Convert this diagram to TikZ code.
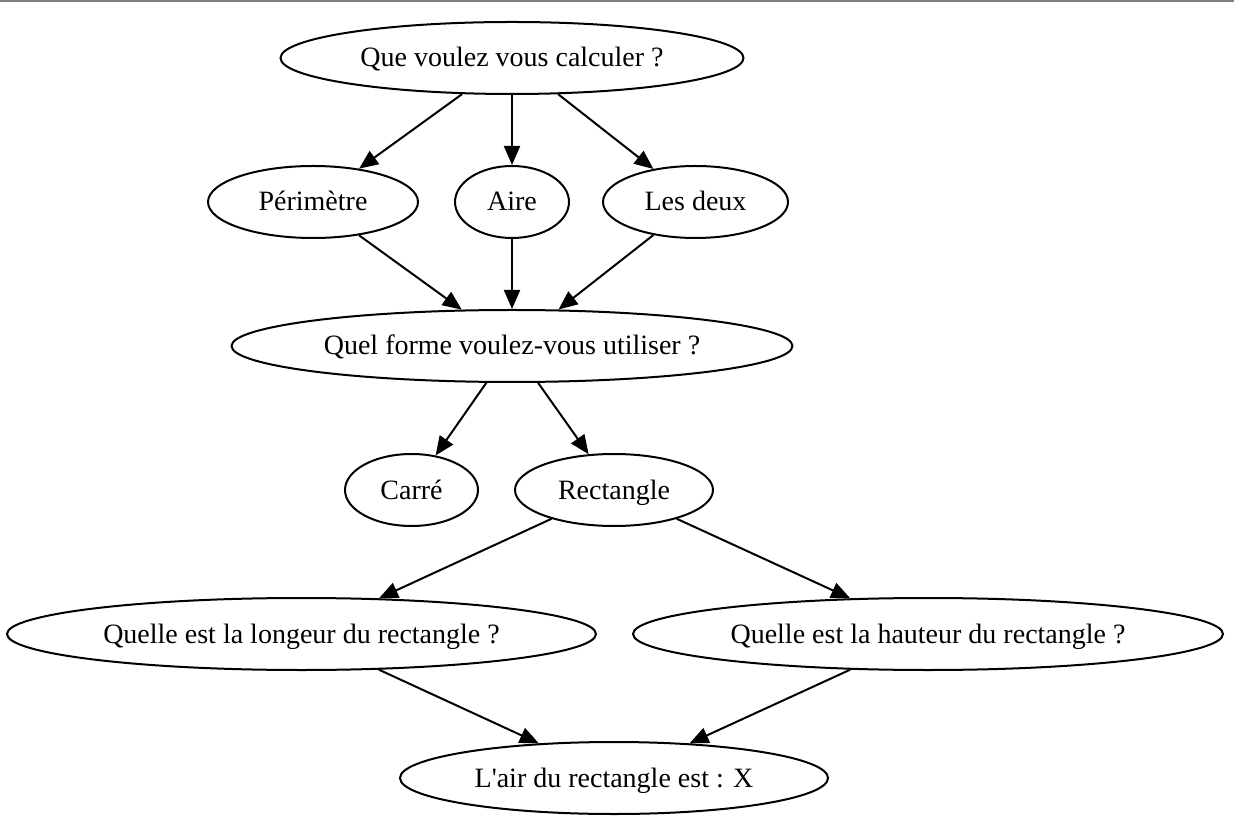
\documentclass[tikz,border=0pt]{standalone}
\usepackage{fontspec}
\setmainfont{Liberation Serif}
\usetikzlibrary{shapes.geometric,arrows.meta}
\begin{document}
\begin{tikzpicture}[x=0.5pt,y=-0.5pt,
    etat/.style={draw, ellipse, line width=1pt, minimum height=36pt, inner sep=0pt,
      text height=12pt, text depth=3pt, font=\fontsize{14pt}{17pt}\selectfont},
    fleche/.style={-{Triangle[length=9.5pt,width=8pt]}, line width=1pt}]
      \useasboundingbox (0,0) rectangle (1234,822);
      % top rule
      \draw[color=gray, line width=1pt] (0,1) -- (1234,1);
      % questions
      \node[etat, minimum width=231.5pt] (calc) at (512,58) {Que voulez vous calculer ?};
      \node[etat, minimum width=105pt] (peri) at (313,202) {Périmètre};
      \node[etat, minimum width=57pt] (aire) at (512,202) {Aire};
      \node[etat, minimum width=92.5pt] (deux) at (695.5,202) {Les deux};
      \node[etat, minimum width=280.5pt] (forme) at (512,346) {Quel forme voulez-vous utiliser ?};
      \node[etat, minimum width=66.5pt] (carre) at (411.5,490) {Carré};
      \node[etat, minimum width=99pt] (rect) at (614,490) {Rectangle};
      \node[etat, minimum width=294.5pt] (longueur) at (301.5,634) {Quelle est la longeur du rectangle ?};
      \node[etat, minimum width=295pt] (hauteur) at (928,634) {Quelle est la hauteur du rectangle ?};
      \node[etat, minimum width=214pt] (resultat) at (614,778) {L\textquotesingle air du rectangle est : X};
      % arrows
      \draw[fleche] (calc) -- (peri);
      \draw[fleche] (calc) -- (aire);
      \draw[fleche] (calc) -- (deux);
      \draw[fleche] (peri) -- (forme);
      \draw[fleche] (aire) -- (forme);
      \draw[fleche] (deux) -- (forme);
      \draw[fleche] (forme) -- (carre);
      \draw[fleche] (forme) -- (rect);
      \draw[fleche] (rect) -- (longueur);
      \draw[fleche] (rect) -- (hauteur);
      \draw[fleche] (longueur) -- (resultat);
      \draw[fleche] (hauteur) -- (resultat);
    \end{tikzpicture}
\end{document}
